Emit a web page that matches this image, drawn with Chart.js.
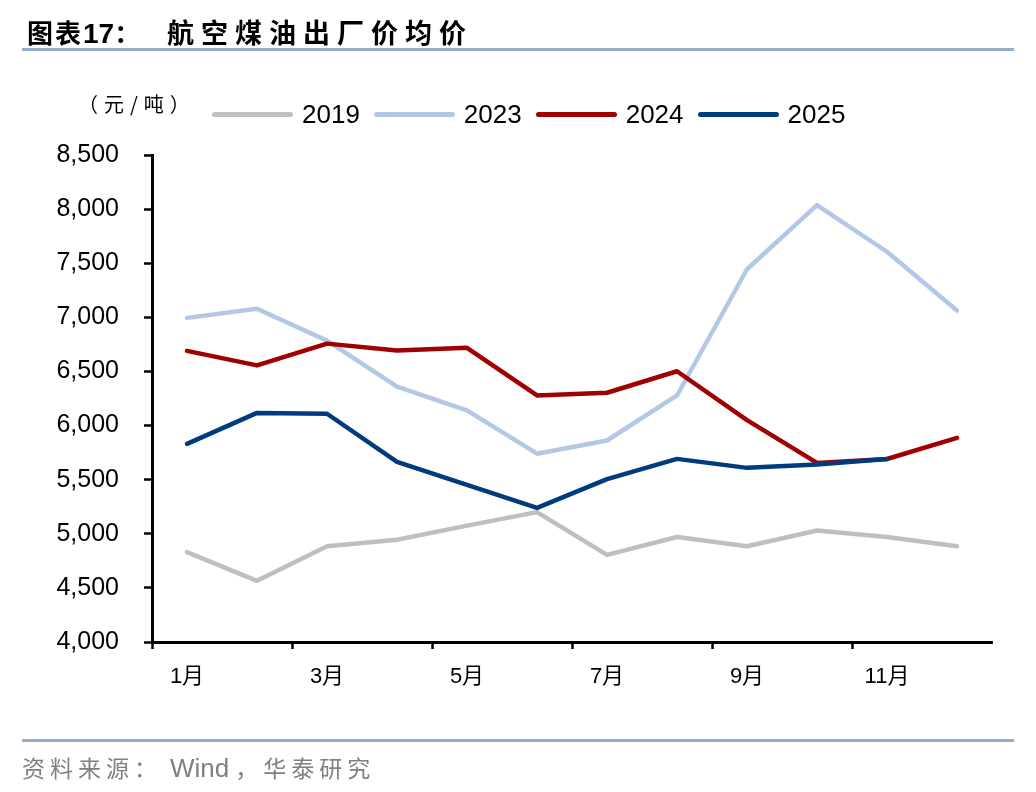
<!DOCTYPE html>
<html>
<head>
<meta charset="utf-8">
<script src="https://cdn.jsdelivr.net/npm/chart.js@4.4.1/dist/chart.umd.min.js"></script>
<style>
    html, body { margin: 0; padding: 0; background: #fff; }
    #wrap { position: relative; width: 1036px; height: 792px; overflow: hidden; }
    #chart { position: absolute; left: 0; top: 0; }
    .txt { position: absolute; white-space: nowrap; }
    .cjk { font-family: "Noto Sans CJK SC", sans-serif; }
    .lat { font-family: "Liberation Sans", Arial, sans-serif; letter-spacing: 0; }
    .rule { position: absolute; left: 22px; width: 992px; height: 3px; background: #94abc9; }
    #legend { position: absolute; left: 212px; top: 100px; height: 28px; display: flex; align-items: center; }
    .lg-item { display: flex; align-items: center; margin-right: 14px; }
    .lg-line { width: 81px; height: 5px; border-radius: 3px; margin-right: 9px; }
    .lg-text { font: 26px "Liberation Sans", Arial, sans-serif; color: #000; line-height: 28px; }
</style>
</head>
<body>
<div id="wrap">
    <canvas id="chart" width="1036" height="792"></canvas>

    <div class="txt cjk" style="left:27px; top:18px; font-size:26px; line-height:28px; font-weight:700; letter-spacing:2px;">图表<span class="lat" style="font-size:28px;">17</span>：</div>
    <div class="txt cjk" style="left:167px; top:18px; font-size:27px; line-height:28px; font-weight:700; letter-spacing:7px;">航空煤油出厂价均价</div>
    <div class="rule" style="top:48px;"></div>

    <div class="txt cjk" style="left:78px; top:92px; font-size:20px; line-height:24px; letter-spacing:6px; color:#000;">（元/吨）</div>
    <div id="legend"></div>

    <div class="rule" style="top:739px;"></div>
    <div class="txt cjk" style="left:22px; top:753px; font-size:23px; line-height:28px; letter-spacing:5px; color:#808080;">资料来源：<span class="lat" style="font-size:26px; margin-left:8px; margin-right:6px;">Wind</span>，华泰研究</div>
</div>

<script>
document.addEventListener("DOMContentLoaded", () => {
    // Data
    const months = ["1月", "2月", "3月", "4月", "5月", "6月", "7月", "8月", "9月", "10月", "11月", "12月"];
    const price2019 = [4830, 4565, 4885, 4945, 5075, 5200, 4805, 4970, 4885, 5030, 4970, 4885];
    const price2023 = [6995, 7080, 6785, 6360, 6140, 5740, 5862, 6278, 7444, 8037, 7606, 7063];
    const price2024 = [6690, 6556, 6757, 6694, 6718, 6278, 6303, 6502, 6050, 5655, 5691, 5886];
    const price2025 = [5831, 6117, 6109, 5665, 5452, 5239, 5505, 5692, 5609, 5640, 5691, null];
    const seriesNames = ["2019", "2023", "2024", "2025"];
    const yTicks = [4000, 4500, 5000, 5500, 6000, 6500, 7000, 7500, 8000, 8500];

    const colors = ["#bfbfbf", "#b4c7e7", "#a10000", "#003b7e"];
    const values = [price2019, price2023, price2024, price2025];

    Chart.defaults.font.family = "'Liberation Sans', Arial, 'Noto Sans CJK SC', sans-serif";
    Chart.defaults.color = "#000";

    const datasets = values.map((v, i) => ({
        label: seriesNames[i],
        data: v,
        borderColor: colors[i],
        backgroundColor: colors[i],
        borderWidth: 4.5,
        borderCapStyle: "round",
        borderJoinStyle: "round",
        pointRadius: 0,
        tension: 0,
        order: 3 - i // later years drawn on top
    }));

    // Legend built from the chart's datasets
    const htmlLegend = {
        id: "htmlLegend",
        afterUpdate(chart) {
            const box = document.querySelector("#legend");
            box.innerHTML = "";
            chart.data.datasets.forEach(ds => {
                const item = document.createElement("div");
                item.className = "lg-item";
                item.innerHTML = `<span class="lg-line" style="background:${ds.borderColor}"></span><span class="lg-text">${ds.label}</span>`;
                box.appendChild(item);
            });
        }
    };

    const ctx = document.querySelector("#chart").getContext("2d");
    new Chart(ctx, {
        type: "line",
        data: { labels: months, datasets: datasets },
        plugins: [htmlLegend],
        options: {
            responsive: false,
            animation: false,
            layout: { padding: { left: 20, right: 44, top: 155, bottom: 100 } },
            plugins: {
                legend: { display: false },
                tooltip: { enabled: false }
            },
            scales: {
                x: {
                    type: "category",
                    offset: true,
                    afterFit: scale => { scale.height = 50; },
                    grid: {
                        offset: true,
                        drawOnChartArea: false,
                        tickLength: 7,
                        tickWidth: 2.5,
                        tickColor: c => (c.index !== undefined && c.index % 2 === 0) ? "#000" : "rgba(0,0,0,0)"
                    },
                    border: { display: true, color: "#000", width: 3 },
                    ticks: {
                        autoSkip: false,
                        maxRotation: 0,
                        padding: 15,
                        font: { size: 22 },
                        callback: function (val, idx) {
                            return idx % 2 === 0 ? this.getLabelForValue(val) : "";
                        }
                    }
                },
                y: {
                    min: yTicks[0],
                    max: yTicks[yTicks.length - 1],
                    afterFit: scale => { scale.width = 132; },
                    afterBuildTicks: scale => { scale.ticks = yTicks.map(v => ({ value: v })); },
                    grid: {
                        drawOnChartArea: false,
                        tickLength: 8,
                        tickWidth: 2.5,
                        tickColor: "#000"
                    },
                    border: { display: true, color: "#000", width: 3 },
                    ticks: {
                        padding: 25,
                        font: { size: 25 },
                        callback: v => v.toLocaleString("en-US")
                    }
                }
            }
        }
    });
});
</script>
</body>
</html>
